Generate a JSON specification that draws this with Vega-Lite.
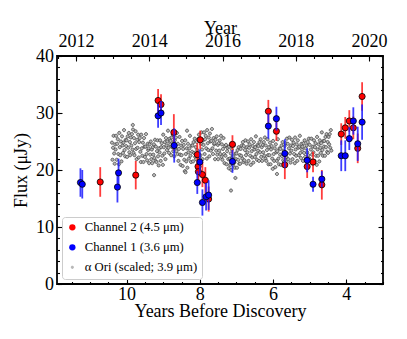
{
  "$schema": "https://vega.github.io/schema/vega-lite/v6.json",
  "width": 326,
  "height": 228,
  "autosize": {"type": "none"},
  "padding": {"left": 57, "top": 56, "right": 24, "bottom": 55},
  "background": "white",
  "config": {
    "view": {"stroke": "black", "strokeWidth": 1.8},
    "font": "Liberation Serif",
    "axis": {"grid": false, "domain": false, "tickColor": "black", "tickWidth": 1.1, "labelColor": "black", "titleColor": "black", "labelFont": "Liberation Serif", "titleFont": "Liberation Serif", "labelFontSize": 18, "titleFontSize": 18, "titleFontWeight": "normal", "labelFlush": false, "labelOverlap": false},
    "legend": {"orient": "none", "legendX": 5, "legendY": 161, "title": null, "padding": 4, "rowPadding": 6, "labelFont": "Liberation Serif", "labelFontSize": 12.7, "labelColor": "black", "labelOffset": 6, "strokeColor": "#cccccc", "fillColor": "rgba(255,255,255,0.85)", "cornerRadius": 3, "symbolSize": 40, "symbolStrokeColor": "black", "symbolStrokeWidth": 0.8}
  },
  "datasets": {
    "ori": [
      {"t":10.4,"f":24.8},{"t":10.385,"f":21.8},{"t":10.37,"f":23.9},{"t":10.355,"f":26.0},{"t":10.34,"f":22.9},{"t":10.325,"f":21.1},{"t":10.31,"f":24.5},
      {"t":10.3,"f":23.6},{"t":10.285,"f":26.0},{"t":10.27,"f":21.8},{"t":10.255,"f":24.6},{"t":10.24,"f":25.4},{"t":10.225,"f":22.8},{"t":10.21,"f":21.0},
      {"t":10.2,"f":26.5},{"t":10.185,"f":24.0},{"t":10.17,"f":22.6},{"t":10.155,"f":25.0},{"t":10.14,"f":21.5},{"t":10.125,"f":25.9},{"t":10.11,"f":24.3},
      {"t":10.1,"f":23.0},{"t":10.085,"f":24.8},{"t":10.07,"f":27.0},{"t":10.055,"f":23.5},{"t":10.04,"f":22.4},{"t":10.025,"f":25.3},{"t":10.01,"f":24.2},
      {"t":10.0,"f":25.2},{"t":9.985,"f":22.3},{"t":9.97,"f":25.9},{"t":9.955,"f":23.9},{"t":9.94,"f":26.5},{"t":9.925,"f":23.1},{"t":9.91,"f":24.9},
      {"t":9.9,"f":22.6},{"t":9.885,"f":25.7},{"t":9.87,"f":24.3},{"t":9.855,"f":26.3},{"t":9.84,"f":23.6},{"t":9.825,"f":27.1},{"t":9.81,"f":23.0},{"t":9.83,"f":27.9},
      {"t":9.8,"f":25.6},{"t":9.785,"f":22.6},{"t":9.77,"f":24.7},{"t":9.755,"f":26.8},{"t":9.74,"f":23.7},{"t":9.725,"f":21.9},{"t":9.71,"f":25.3},
      {"t":9.7,"f":23.9},{"t":9.685,"f":26.2},{"t":9.67,"f":22.2},{"t":9.655,"f":24.9},{"t":9.64,"f":25.6},{"t":9.625,"f":23.2},{"t":9.61,"f":21.4},
      {"t":9.6,"f":26.2},{"t":9.585,"f":23.8},{"t":9.57,"f":22.5},{"t":9.555,"f":24.8},{"t":9.54,"f":21.4},{"t":9.525,"f":25.6},{"t":9.51,"f":24.1},
      {"t":9.5,"f":22.3},{"t":9.485,"f":24.1},{"t":9.47,"f":26.3},{"t":9.455,"f":22.8},{"t":9.44,"f":21.7},{"t":9.425,"f":24.6},{"t":9.41,"f":23.5},
      {"t":9.4,"f":23.8},{"t":9.385,"f":21.2},{"t":9.37,"f":24.5},{"t":9.355,"f":22.7},{"t":9.34,"f":25.0},{"t":9.325,"f":21.9},{"t":9.31,"f":23.6},
      {"t":9.3,"f":21.2},{"t":9.285,"f":24.0},{"t":9.27,"f":22.7},{"t":9.255,"f":24.5},{"t":9.24,"f":22.1},{"t":9.225,"f":25.3},{"t":9.21,"f":21.6},{"t":9.25,"f":19.1},
      {"t":9.2,"f":24.1},{"t":9.185,"f":21.4},{"t":9.17,"f":23.3},{"t":9.155,"f":25.2},{"t":9.14,"f":22.4},{"t":9.125,"f":20.8},{"t":9.11,"f":23.8},
      {"t":9.1,"f":23.1},{"t":9.085,"f":25.2},{"t":9.07,"f":21.6},{"t":9.055,"f":24.0},{"t":9.04,"f":24.7},{"t":9.025,"f":22.5},{"t":9.01,"f":20.9},
      {"t":9.0,"f":26.2},{"t":8.985,"f":24.0},{"t":8.97,"f":22.9},{"t":8.955,"f":24.9},{"t":8.94,"f":21.9},{"t":8.925,"f":25.6},{"t":8.91,"f":24.3},
      {"t":8.9,"f":23.5},{"t":8.885,"f":25.0},{"t":8.87,"f":26.9},{"t":8.855,"f":23.9},{"t":8.84,"f":23.0},{"t":8.825,"f":25.5},{"t":8.81,"f":24.5},
      {"t":8.8,"f":25.1},{"t":8.785,"f":22.6},{"t":8.77,"f":25.7},{"t":8.755,"f":24.0},{"t":8.74,"f":26.2},{"t":8.725,"f":23.3},{"t":8.71,"f":24.8},
      {"t":8.7,"f":22.4},{"t":8.685,"f":25.2},{"t":8.67,"f":23.9},{"t":8.655,"f":25.7},{"t":8.64,"f":23.3},{"t":8.625,"f":26.5},{"t":8.61,"f":22.8},
      {"t":8.6,"f":24.6},{"t":8.585,"f":21.6},{"t":8.57,"f":23.7},{"t":8.555,"f":25.8},{"t":8.54,"f":22.7},{"t":8.525,"f":20.9},{"t":8.51,"f":24.3},
      {"t":8.5,"f":22.6},{"t":8.485,"f":25.1},{"t":8.47,"f":20.7},{"t":8.455,"f":23.7},{"t":8.44,"f":24.4},{"t":8.425,"f":21.8},{"t":8.41,"f":19.8},{"t":8.39,"f":19.6},
      {"t":8.4,"f":25.2},{"t":8.385,"f":22.8},{"t":8.37,"f":21.5},{"t":8.355,"f":23.8},{"t":8.34,"f":20.4},{"t":8.325,"f":24.6},{"t":8.31,"f":23.1},{"t":8.35,"f":26.9},
      {"t":8.3,"f":22.0},{"t":8.285,"f":23.8},{"t":8.27,"f":26.0},{"t":8.255,"f":22.5},{"t":8.24,"f":21.4},{"t":8.225,"f":24.3},{"t":8.21,"f":23.2},
      {"t":8.2,"f":24.3},{"t":8.185,"f":21.5},{"t":8.17,"f":24.9},{"t":8.155,"f":23.0},{"t":8.14,"f":25.5},{"t":8.125,"f":22.3},{"t":8.11,"f":24.0},
      {"t":8.1,"f":21.9},{"t":8.085,"f":24.9},{"t":8.07,"f":23.5},{"t":8.055,"f":25.4},{"t":8.04,"f":22.9},{"t":8.025,"f":26.2},{"t":8.01,"f":22.3},
      {"t":8.0,"f":25.4},{"t":7.985,"f":22.6},{"t":7.97,"f":24.6},{"t":7.955,"f":26.6},{"t":7.94,"f":23.6},{"t":7.925,"f":21.9},{"t":7.91,"f":25.2},
      {"t":7.9,"f":24.4},{"t":7.885,"f":26.6},{"t":7.87,"f":22.8},{"t":7.855,"f":25.4},{"t":7.84,"f":26.0},{"t":7.825,"f":23.8},{"t":7.81,"f":22.0},
      {"t":7.8,"f":27.0},{"t":7.785,"f":24.7},{"t":7.77,"f":23.5},{"t":7.755,"f":25.7},{"t":7.74,"f":22.4},{"t":7.725,"f":26.4},{"t":7.71,"f":25.0},
      {"t":7.7,"f":23.4},{"t":7.685,"f":25.1},{"t":7.67,"f":27.2},{"t":7.655,"f":23.8},{"t":7.64,"f":22.8},{"t":7.625,"f":25.6},{"t":7.61,"f":24.5},
      {"t":7.6,"f":24.7},{"t":7.585,"f":21.9},{"t":7.57,"f":25.3},{"t":7.555,"f":23.4},{"t":7.54,"f":25.9},{"t":7.525,"f":22.7},{"t":7.51,"f":24.4},
      {"t":7.5,"f":21.9},{"t":7.485,"f":24.7},{"t":7.47,"f":23.4},{"t":7.455,"f":25.2},{"t":7.44,"f":22.8},{"t":7.425,"f":26.0},{"t":7.41,"f":22.3},
      {"t":7.4,"f":24.5},{"t":7.385,"f":21.8},{"t":7.37,"f":23.7},{"t":7.355,"f":25.6},{"t":7.34,"f":22.8},{"t":7.325,"f":21.2},{"t":7.31,"f":24.2},
      {"t":7.3,"f":22.5},{"t":7.285,"f":24.4},{"t":7.27,"f":21.0},{"t":7.255,"f":23.3},{"t":7.24,"f":23.9},{"t":7.225,"f":21.9},{"t":7.21,"f":20.3},
      {"t":7.2,"f":24.1},{"t":7.185,"f":22.0},{"t":7.17,"f":20.9},{"t":7.155,"f":22.9},{"t":7.14,"f":20.0},{"t":7.125,"f":23.6},{"t":7.11,"f":22.3},{"t":7.15,"f":16.4},
      {"t":7.1,"f":20.9},{"t":7.085,"f":22.4},{"t":7.07,"f":24.3},{"t":7.055,"f":21.3},{"t":7.04,"f":20.4},{"t":7.025,"f":22.9},{"t":7.01,"f":21.9},{"t":7.03,"f":18.6},
      {"t":7.0,"f":22.9},{"t":6.985,"f":20.4},{"t":6.97,"f":23.5},{"t":6.955,"f":21.8},{"t":6.94,"f":24.0},{"t":6.925,"f":21.1},{"t":6.91,"f":22.6},
      {"t":6.9,"f":21.1},{"t":6.885,"f":23.7},{"t":6.87,"f":22.5},{"t":6.855,"f":24.3},{"t":6.84,"f":22.0},{"t":6.825,"f":24.9},{"t":6.81,"f":21.4},
      {"t":6.8,"f":24.2},{"t":6.785,"f":21.7},{"t":6.77,"f":23.5},{"t":6.755,"f":25.2},{"t":6.74,"f":22.6},{"t":6.725,"f":21.1},{"t":6.71,"f":24.0},
      {"t":6.7,"f":23.1},{"t":6.685,"f":25.0},{"t":6.67,"f":21.6},{"t":6.655,"f":23.9},{"t":6.64,"f":24.5},{"t":6.625,"f":22.5},{"t":6.61,"f":20.9},
      {"t":6.6,"f":25.4},{"t":6.585,"f":23.3},{"t":6.57,"f":22.2},{"t":6.555,"f":24.2},{"t":6.54,"f":21.3},{"t":6.525,"f":24.9},{"t":6.51,"f":23.6},
      {"t":6.5,"f":22.3},{"t":6.485,"f":24.0},{"t":6.47,"f":25.9},{"t":6.455,"f":22.8},{"t":6.44,"f":21.8},{"t":6.425,"f":24.4},{"t":6.41,"f":23.4},
      {"t":6.4,"f":24.2},{"t":6.385,"f":21.6},{"t":6.37,"f":24.9},{"t":6.355,"f":23.1},{"t":6.34,"f":25.4},{"t":6.325,"f":22.3},{"t":6.31,"f":24.0},
      {"t":6.3,"f":21.6},{"t":6.285,"f":24.4},{"t":6.27,"f":23.1},{"t":6.255,"f":24.9},{"t":6.24,"f":22.5},{"t":6.225,"f":25.7},{"t":6.21,"f":22.0},
      {"t":6.2,"f":24.3},{"t":6.185,"f":21.6},{"t":6.17,"f":23.5},{"t":6.155,"f":25.4},{"t":6.14,"f":22.6},{"t":6.125,"f":21.0},{"t":6.11,"f":24.0},
      {"t":6.1,"f":22.6},{"t":6.085,"f":24.8},{"t":6.07,"f":21.0},{"t":6.055,"f":23.6},{"t":6.04,"f":24.2},{"t":6.025,"f":22.0},{"t":6.01,"f":20.2},
      {"t":6.0,"f":25.1},{"t":5.985,"f":22.8},{"t":5.97,"f":21.6},{"t":5.955,"f":23.8},{"t":5.94,"f":20.5},{"t":5.925,"f":24.5},{"t":5.91,"f":23.1},
      {"t":5.9,"f":21.6},{"t":5.885,"f":23.3},{"t":5.87,"f":25.4},{"t":5.855,"f":22.0},{"t":5.84,"f":21.0},{"t":5.825,"f":23.8},{"t":5.81,"f":22.7},{"t":5.895,"f":19.3},
      {"t":5.8,"f":23.7},{"t":5.785,"f":20.9},{"t":5.77,"f":24.3},{"t":5.755,"f":22.4},{"t":5.74,"f":24.9},{"t":5.725,"f":21.7},{"t":5.71,"f":23.4},
      {"t":5.7,"f":21.4},{"t":5.685,"f":24.2},{"t":5.67,"f":22.9},{"t":5.655,"f":24.7},{"t":5.64,"f":22.3},{"t":5.625,"f":25.5},{"t":5.61,"f":21.8},
      {"t":5.6,"f":24.6},{"t":5.585,"f":21.9},{"t":5.57,"f":23.8},{"t":5.555,"f":25.7},{"t":5.54,"f":22.9},{"t":5.525,"f":21.3},{"t":5.51,"f":24.3},
      {"t":5.5,"f":23.4},{"t":5.485,"f":25.3},{"t":5.47,"f":21.9},{"t":5.455,"f":24.2},{"t":5.44,"f":24.8},{"t":5.425,"f":22.8},{"t":5.41,"f":21.2},
      {"t":5.4,"f":25.7},{"t":5.385,"f":23.6},{"t":5.37,"f":22.5},{"t":5.355,"f":24.5},{"t":5.34,"f":21.6},{"t":5.325,"f":25.2},{"t":5.31,"f":23.9},
      {"t":5.3,"f":22.6},{"t":5.285,"f":24.1},{"t":5.27,"f":26.0},{"t":5.255,"f":23.0},{"t":5.24,"f":22.1},{"t":5.225,"f":24.6},{"t":5.21,"f":23.6},
      {"t":5.2,"f":24.1},{"t":5.185,"f":21.6},{"t":5.17,"f":24.7},{"t":5.155,"f":23.0},{"t":5.14,"f":25.2},{"t":5.125,"f":22.3},{"t":5.11,"f":23.8},
      {"t":5.1,"f":21.7},{"t":5.085,"f":24.3},{"t":5.07,"f":23.1},{"t":5.055,"f":24.9},{"t":5.04,"f":22.6},{"t":5.025,"f":25.5},{"t":5.01,"f":22.0},
      {"t":5.0,"f":24.4},{"t":4.985,"f":21.7},{"t":4.97,"f":23.6},{"t":4.955,"f":25.5},{"t":4.94,"f":22.7},{"t":4.925,"f":21.1},{"t":4.91,"f":24.1},
      {"t":4.9,"f":23.1},{"t":4.885,"f":25.2},{"t":4.87,"f":21.6},{"t":4.855,"f":24.0},{"t":4.84,"f":24.7},{"t":4.825,"f":22.5},{"t":4.81,"f":20.9},
      {"t":4.8,"f":25.8},{"t":4.785,"f":23.6},{"t":4.77,"f":22.5},{"t":4.755,"f":24.5},{"t":4.74,"f":21.5},{"t":4.725,"f":25.2},{"t":4.71,"f":23.9},
      {"t":4.7,"f":23.0},{"t":4.685,"f":24.7},{"t":4.67,"f":26.6},{"t":4.655,"f":23.5},{"t":4.64,"f":22.5},{"t":4.625,"f":25.1},{"t":4.61,"f":24.1},
      {"t":4.6,"f":25.1},{"t":4.585,"f":22.5},{"t":4.57,"f":25.8},{"t":4.555,"f":24.0},{"t":4.54,"f":26.3},{"t":4.525,"f":23.2},{"t":4.51,"f":24.9},
      {"t":4.5,"f":23.0},{"t":4.485,"f":25.8},{"t":4.47,"f":24.5},{"t":4.455,"f":26.3},{"t":4.44,"f":23.9},{"t":4.425,"f":27.0},{"t":4.41,"f":23.4}
    ],
    "sn": [
      {"ch":2,"s":"Channel 2 (4.5 μm)","t":10.72,"f":17.9,"lo":15.3,"hi":20.5},
      {"ch":2,"s":"Channel 2 (4.5 μm)","t":9.75,"f":19.1,"lo":16.6,"hi":21.6},
      {"ch":2,"s":"Channel 2 (4.5 μm)","t":9.14,"f":32.2,"lo":30.2,"hi":34.2},
      {"ch":2,"s":"Channel 2 (4.5 μm)","t":9.06,"f":31.5,"lo":29.7,"hi":33.3},
      {"ch":2,"s":"Channel 2 (4.5 μm)","t":8.71,"f":26.6,"lo":23.4,"hi":29.8},
      {"ch":2,"s":"Channel 2 (4.5 μm)","t":8.07,"f":22.7,"lo":20.7,"hi":24.7},
      {"ch":2,"s":"Channel 2 (4.5 μm)","t":7.99,"f":25.3,"lo":23.7,"hi":26.9},
      {"ch":2,"s":"Channel 2 (4.5 μm)","t":8.05,"f":20.6,"lo":18.4,"hi":22.8},
      {"ch":2,"s":"Channel 2 (4.5 μm)","t":8.04,"f":19.7,"lo":17.7,"hi":21.7},
      {"ch":2,"s":"Channel 2 (4.5 μm)","t":7.93,"f":19.2,"lo":17.0,"hi":21.4},
      {"ch":2,"s":"Channel 2 (4.5 μm)","t":7.85,"f":18.2,"lo":15.9,"hi":20.5},
      {"ch":2,"s":"Channel 2 (4.5 μm)","t":7.76,"f":14.9,"lo":12.7,"hi":17.1},
      {"ch":2,"s":"Channel 2 (4.5 μm)","t":7.11,"f":24.5,"lo":22.9,"hi":26.1},
      {"ch":2,"s":"Channel 2 (4.5 μm)","t":6.13,"f":30.3,"lo":28.3,"hi":32.3},
      {"ch":2,"s":"Channel 2 (4.5 μm)","t":5.91,"f":26.8,"lo":25.1,"hi":28.5},
      {"ch":2,"s":"Channel 2 (4.5 μm)","t":5.68,"f":20.9,"lo":18.4,"hi":23.4},
      {"ch":2,"s":"Channel 2 (4.5 μm)","t":5.07,"f":20.6,"lo":18.6,"hi":22.6},
      {"ch":2,"s":"Channel 2 (4.5 μm)","t":4.91,"f":21.4,"lo":19.6,"hi":23.2},
      {"ch":2,"s":"Channel 2 (4.5 μm)","t":4.67,"f":17.4,"lo":14.8,"hi":20.0},
      {"ch":2,"s":"Channel 2 (4.5 μm)","t":4.14,"f":26.3,"lo":24.4,"hi":28.2},
      {"ch":2,"s":"Channel 2 (4.5 μm)","t":4.03,"f":27.4,"lo":25.5,"hi":29.3},
      {"ch":2,"s":"Channel 2 (4.5 μm)","t":3.92,"f":28.6,"lo":26.7,"hi":30.5},
      {"ch":2,"s":"Channel 2 (4.5 μm)","t":3.81,"f":27.4,"lo":25.4,"hi":29.4},
      {"ch":2,"s":"Channel 2 (4.5 μm)","t":3.69,"f":23.8,"lo":21.2,"hi":26.4},
      {"ch":2,"s":"Channel 2 (4.5 μm)","t":3.57,"f":32.9,"lo":30.4,"hi":35.4},
      {"ch":1,"s":"Channel 1 (3.6 μm)","t":11.26,"f":17.8,"lo":15.3,"hi":20.3},
      {"ch":1,"s":"Channel 1 (3.6 μm)","t":11.21,"f":17.5,"lo":15.0,"hi":20.0},
      {"ch":1,"s":"Channel 1 (3.6 μm)","t":10.25,"f":17.0,"lo":14.3,"hi":19.7},
      {"ch":1,"s":"Channel 1 (3.6 μm)","t":10.22,"f":19.5,"lo":17.0,"hi":22.0},
      {"ch":1,"s":"Channel 1 (3.6 μm)","t":9.14,"f":29.5,"lo":27.4,"hi":31.6},
      {"ch":1,"s":"Channel 1 (3.6 μm)","t":9.06,"f":30.0,"lo":27.9,"hi":32.1},
      {"ch":1,"s":"Channel 1 (3.6 μm)","t":8.7,"f":24.3,"lo":21.3,"hi":27.3},
      {"ch":1,"s":"Channel 1 (3.6 μm)","t":8.07,"f":17.8,"lo":15.8,"hi":19.8},
      {"ch":1,"s":"Channel 1 (3.6 μm)","t":8.0,"f":21.4,"lo":19.2,"hi":23.6},
      {"ch":1,"s":"Channel 1 (3.6 μm)","t":7.93,"f":14.3,"lo":12.0,"hi":16.6},
      {"ch":1,"s":"Channel 1 (3.6 μm)","t":7.83,"f":15.3,"lo":12.9,"hi":17.7},
      {"ch":1,"s":"Channel 1 (3.6 μm)","t":7.76,"f":15.6,"lo":13.0,"hi":18.2},
      {"ch":1,"s":"Channel 1 (3.6 μm)","t":7.11,"f":21.5,"lo":19.5,"hi":23.5},
      {"ch":1,"s":"Channel 1 (3.6 μm)","t":6.13,"f":27.7,"lo":25.5,"hi":29.9},
      {"ch":1,"s":"Channel 1 (3.6 μm)","t":5.91,"f":29.0,"lo":26.9,"hi":31.1},
      {"ch":1,"s":"Channel 1 (3.6 μm)","t":5.68,"f":22.9,"lo":20.4,"hi":25.4},
      {"ch":1,"s":"Channel 1 (3.6 μm)","t":5.07,"f":21.7,"lo":19.6,"hi":23.8},
      {"ch":1,"s":"Channel 1 (3.6 μm)","t":4.91,"f":17.5,"lo":16.2,"hi":18.8},
      {"ch":1,"s":"Channel 1 (3.6 μm)","t":4.67,"f":18.4,"lo":17.0,"hi":19.8},
      {"ch":1,"s":"Channel 1 (3.6 μm)","t":4.14,"f":22.5,"lo":19.8,"hi":25.2},
      {"ch":1,"s":"Channel 1 (3.6 μm)","t":4.03,"f":22.5,"lo":19.8,"hi":25.2},
      {"ch":1,"s":"Channel 1 (3.6 μm)","t":3.92,"f":25.5,"lo":23.5,"hi":27.5},
      {"ch":1,"s":"Channel 1 (3.6 μm)","t":3.81,"f":28.6,"lo":26.2,"hi":31.0},
      {"ch":1,"s":"Channel 1 (3.6 μm)","t":3.69,"f":24.6,"lo":21.6,"hi":27.6},
      {"ch":1,"s":"Channel 1 (3.6 μm)","t":3.57,"f":28.4,"lo":25.3,"hi":31.5}
    ]
  },
  "resolve": {"scale": {"x": "shared", "y": "shared"}, "axis": {"x": "independent", "y": "independent"}},
  "layer": [
    {
      "data": {"name": "ori"},
      "mark": {"type": "point", "filled": true, "size": 40, "stroke": "#1e1e1e", "strokeWidth": 0.6, "opacity": 1},
      "encoding": {
        "x": {"field": "t", "type": "quantitative", "scale": {"domain": [3.0, 11.9], "reverse": true, "nice": false, "zero": false},
          "axis": {"orient": "bottom", "values": [10, 8, 6, 4], "tickSize": -5, "labelPadding": 20, "labelBaseline": "alphabetic", "format": "d", "title": "Years Before Discovery", "titleBaseline": "alphabetic", "titleY": 32.5}},
        "y": {"field": "f", "type": "quantitative", "scale": {"domain": [0, 40], "nice": false, "zero": false},
          "axis": {"orient": "left", "values": [0, 10, 20, 30, 40], "tickSize": -5, "labelPadding": 8.5, "format": "d", "title": "Flux (μJy)", "titleBaseline": "alphabetic", "titleX": -31}},
        "fill": {"datum": "α Ori (scaled; 3.9 μm)", "type": "nominal",
          "scale": {"domain": ["Channel 2 (4.5 μm)", "Channel 1 (3.6 μm)", "α Ori (scaled; 3.9 μm)"], "range": ["#ff0000", "#0000ff", "#b8b8b8"]},
          "legend": {"title": null}},
        "shape": {"datum": "α Ori (scaled; 3.9 μm)", "type": "nominal",
          "scale": {"domain": ["Channel 2 (4.5 μm)", "Channel 1 (3.6 μm)", "α Ori (scaled; 3.9 μm)"], "range": ["circle", "circle", "M-0.5,0A0.5,0.5 0 1,1 0.5,0A0.5,0.5 0 1,1 -0.5,0Z"]},
          "legend": {"title": null}}
      }
    },
    {
      "mark": {"type": "rule", "color": "#ff0000", "strokeDash": [6, 3], "strokeWidth": 1.3},
      "encoding": {"y": {"datum": 24.1, "type": "quantitative", "axis": null}}
    },
    {
      "mark": {"type": "rule", "color": "#0000ff", "strokeDash": [6, 3], "strokeWidth": 1.3},
      "encoding": {"y": {"datum": 22.45, "type": "quantitative", "axis": null}}
    },
    {
      "data": {"name": "sn"},
      "transform": [{"filter": "datum.ch == 2"}],
      "mark": {"type": "rule", "color": "#ff1a1a", "strokeWidth": 1.8, "opacity": 0.85},
      "encoding": {
        "x": {"field": "t", "type": "quantitative", "axis": {"orient": "bottom", "values": [11.5, 11, 10.5, 10, 9.5, 9, 8.5, 8, 7.5, 7, 6.5, 6, 5.5, 5, 4.5, 4, 3.5, 3], "tickSize": -2.5, "labels": false, "title": null}},
        "y": {"field": "lo", "type": "quantitative", "axis": {"orient": "left", "values": [0, 2, 4, 6, 8, 10, 12, 14, 16, 18, 20, 22, 24, 26, 28, 30, 32, 34, 36, 38, 40], "tickSize": -2.5, "labels": false, "title": null}},
        "y2": {"field": "hi"}
      }
    },
    {
      "data": {"name": "sn"},
      "transform": [{"filter": "datum.ch == 2"}],
      "mark": {"type": "point", "filled": true, "size": 38, "stroke": "black", "strokeWidth": 0.8, "opacity": 1},
      "encoding": {
        "x": {"field": "t", "type": "quantitative", "axis": {"orient": "top", "values": [11.38, 9.38, 7.38, 5.38, 3.38], "tickSize": -5, "labelPadding": 14.3, "labelBaseline": "alphabetic", "labelExpr": "'' + round(2023.38 - datum.value)", "title": "Year", "titleBaseline": "alphabetic", "titleY": -23}},
        "y": {"field": "f", "type": "quantitative", "axis": {"orient": "right", "values": [0, 10, 20, 30, 40], "tickSize": -5, "labels": false, "title": null}},
        "fill": {"field": "s", "type": "nominal", "legend": {"title": null}},
        "shape": {"field": "s", "type": "nominal", "legend": {"title": null}}
      }
    },
    {
      "data": {"name": "sn"},
      "transform": [{"filter": "datum.ch == 1"}],
      "mark": {"type": "rule", "color": "#1a1aff", "strokeWidth": 1.8, "opacity": 0.85},
      "encoding": {
        "x": {"field": "t", "type": "quantitative", "axis": {"orient": "top", "values": [11.88, 11.38, 10.88, 10.38, 9.88, 9.38, 8.88, 8.38, 7.88, 7.38, 6.88, 6.38, 5.88, 5.38, 4.88, 4.38, 3.88, 3.38], "tickSize": -2.5, "labels": false, "title": null}},
        "y": {"field": "lo", "type": "quantitative", "axis": {"orient": "right", "values": [0, 2, 4, 6, 8, 10, 12, 14, 16, 18, 20, 22, 24, 26, 28, 30, 32, 34, 36, 38, 40], "tickSize": -2.5, "labels": false, "title": null}},
        "y2": {"field": "hi"}
      }
    },
    {
      "data": {"name": "sn"},
      "transform": [{"filter": "datum.ch == 1"}],
      "mark": {"type": "point", "filled": true, "size": 38, "stroke": "black", "strokeWidth": 0.8, "opacity": 1},
      "encoding": {
        "x": {"field": "t", "type": "quantitative", "axis": null},
        "y": {"field": "f", "type": "quantitative", "axis": null},
        "fill": {"field": "s", "type": "nominal", "legend": {"title": null}},
        "shape": {"field": "s", "type": "nominal", "legend": {"title": null}}
      }
    }
  ]
}
